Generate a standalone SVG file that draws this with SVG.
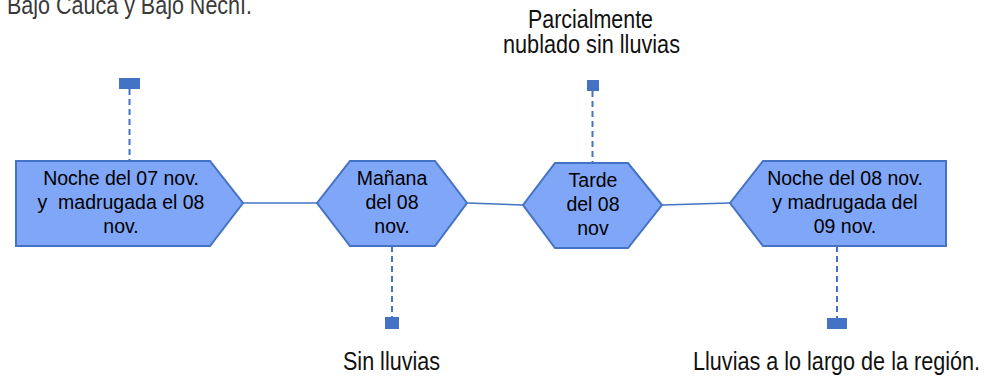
<svg xmlns="http://www.w3.org/2000/svg" width="989" height="377" viewBox="0 0 989 377">
<style>
.node{fill:#7FA6F7;stroke:#4472C4;stroke-width:2;stroke-linejoin:miter}
.nt{font-family:"Liberation Sans",Arial,sans-serif;font-size:19.5px;fill:#000;text-anchor:middle}
.conn{stroke:#4472C4;stroke-width:1.5;fill:none}
.dash{stroke:#4472C4;stroke-width:2;stroke-dasharray:6 4;fill:none}
.mk{fill:#4472C4}
.lbl{font-family:"Liberation Sans Narrow","Liberation Sans",Arial,sans-serif;font-size:26px;fill:#111;text-anchor:middle}
.hdr{font-family:"Liberation Sans Narrow","Liberation Sans",Arial,sans-serif;font-size:26px;fill:#3a3a3a}
</style>
<text class="hdr" x="7" y="14" textLength="245" lengthAdjust="spacingAndGlyphs">Bajo Cauca y Bajo Nechí.</text>
<g id="connectors">
<line class="conn" x1="243" y1="203" x2="317" y2="203"/>
<line class="conn" x1="467" y1="203" x2="523" y2="205"/>
<line class="conn" x1="662" y1="205" x2="730" y2="203"/>
<line class="dash" x1="129.5" y1="89" x2="129.5" y2="161"/>
<line class="dash" x1="592.5" y1="91" x2="592.5" y2="163"/>
<line class="dash" x1="392" y1="246" x2="392" y2="317"/>
<line class="dash" x1="837" y1="246" x2="837" y2="318"/>
<rect class="mk" x="119" y="78" width="21" height="11"/>
<rect class="mk" x="587" y="80" width="12" height="11"/>
<rect class="mk" x="385" y="317" width="14" height="12"/>
<rect class="mk" x="827" y="318" width="20" height="11"/>
</g>
<g id="node1">
<polygon class="node" points="16,161 210,161 243,203 210,246 16,246"/>
<text class="nt" x="121" y="185">Noche del 07 nov.</text>
<text class="nt" x="121" y="209" xml:space="preserve">y  madrugada el 08</text>
<text class="nt" x="121" y="233">nov.</text>
</g>
<g id="node2">
<polygon class="node" points="317,203 350,161 435,161 467,203 435,246 350,246"/>
<text class="nt" x="392" y="185">Mañana</text>
<text class="nt" x="392" y="209">del 08</text>
<text class="nt" x="392" y="233">nov.</text>
</g>
<g id="node3">
<polygon class="node" points="523,205 555,163 628,163 662,205 628,248 555,248"/>
<text class="nt" x="593" y="187">Tarde</text>
<text class="nt" x="593" y="211">del 08</text>
<text class="nt" x="593" y="235">nov</text>
</g>
<g id="node4">
<polygon class="node" points="730,203 763,161 946,161 946,246 763,246"/>
<text class="nt" x="845" y="185">Noche del 08 nov.</text>
<text class="nt" x="845" y="209">y madrugada del</text>
<text class="nt" x="845" y="233">09 nov.</text>
</g>
<g id="labels">
<text class="lbl" x="590.5" y="28" textLength="125" lengthAdjust="spacingAndGlyphs">Parcialmente</text>
<text class="lbl" x="591.5" y="53" textLength="177" lengthAdjust="spacingAndGlyphs">nublado sin lluvias</text>
<text class="lbl" x="391.5" y="370" textLength="97" lengthAdjust="spacingAndGlyphs">Sin lluvias</text>
<text class="lbl" x="836.5" y="370" textLength="287" lengthAdjust="spacingAndGlyphs">Lluvias a lo largo de la región.</text>
</g>
</svg>
